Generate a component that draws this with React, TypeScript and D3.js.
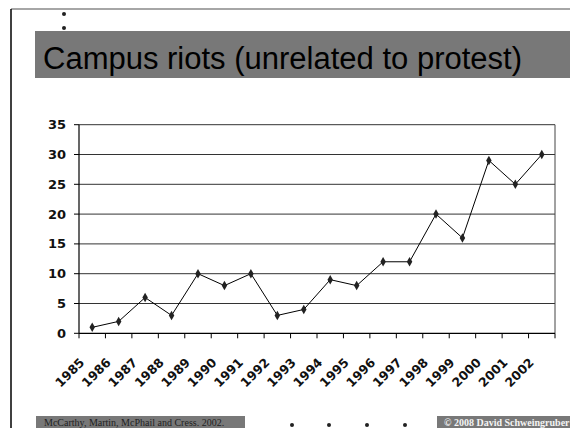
import React from 'react';
import * as d3 from 'd3';

const years = ['1985', '1986', '1987', '1988', '1989', '1990', '1991', '1992', '1993',
    '1994', '1995', '1996', '1997', '1998', '1999', '2000', '2001', '2002'];
const riots = [1, 2, 6, 3, 10, 8, 10, 3, 4, 9, 8, 12, 12, 20, 16, 29, 25, 30];
const yTicks = [0, 5, 10, 15, 20, 25, 30, 35];

const title = 'Campus riots (unrelated to protest)';
const sourceNote = 'McCarthy, Martin, McPhail and Cress. 2002.';
const copyright = '\u00A9 2008 David Schweingruber';

const W = 570, H = 428;
const PLOT = { LEFT: 79, RIGHT: 555, TOP: 124.7, BOTTOM: 333.3 };

const App = () => {
    const x = d3.scaleBand<string>().domain(years).range([PLOT.LEFT, PLOT.RIGHT]);
    const y = d3.scaleLinear().domain([0, 35]).range([PLOT.BOTTOM, PLOT.TOP]);

    const line = d3.line<number>()
        .x((_, i) => (x(years[i]) as number) + x.bandwidth() / 2)
        .y(d => y(d));

    const diamond = d3.symbol().type(d3.symbolDiamond).size(26)();

    const boundaries = years.map(yr => x(yr) as number).concat([PLOT.RIGHT]);

    return (
        <svg width={W} height={H} style={{ position: 'absolute', left: 0, top: 0, background: '#fff' }}>
            {/* slide frame */}
            <line x1={11} x2={W} y1={9} y2={9} stroke='#888' strokeWidth={1.5} />
            <line x1={11} x2={11} y1={9} y2={H} stroke='#000' strokeWidth={1.5} />
            <circle cx={64} cy={14} r={2} fill='#222' />
            <circle cx={64} cy={28} r={2} fill='#222' />

            {/* title bar */}
            <rect x={35} y={31} width={W - 35} height={47} fill='#787878' />
            <text x={43} y={69} fontFamily='Liberation Sans' fontSize={31} fill='#000'>{title}</text>

            {/* gridlines */}
            <g>
                {yTicks.filter(t => t > 0).map(t => (
                    <line key={`grid-${t}`} x1={PLOT.LEFT} x2={PLOT.RIGHT} y1={y(t)} y2={y(t)} stroke='#333' strokeWidth={1} />
                ))}
            </g>
            {/* axes */}
            <line x1={PLOT.RIGHT} x2={PLOT.RIGHT} y1={PLOT.TOP} y2={PLOT.BOTTOM} stroke='#444' strokeWidth={1} />
            <line x1={PLOT.LEFT} x2={PLOT.LEFT} y1={PLOT.TOP} y2={PLOT.BOTTOM} stroke='#000' strokeWidth={1.2} />
            <line x1={PLOT.LEFT} x2={PLOT.RIGHT} y1={PLOT.BOTTOM} y2={PLOT.BOTTOM} stroke='#000' strokeWidth={1.2} />
            <g>
                {yTicks.map(t => (
                    <g key={`yt-${t}`}>
                        <line x1={PLOT.LEFT - 5} x2={PLOT.LEFT} y1={y(t)} y2={y(t)} stroke='#000' />
                        <text x={66} y={y(t)} dy='0.35em' textAnchor='end' fontFamily='DejaVu Sans'
                            fontWeight='bold' fontSize={13} fill='#111'>{t}</text>
                    </g>
                ))}
            </g>
            <g>
                {boundaries.map((b, i) => (
                    <line key={`xt-${i}`} x1={b} x2={b} y1={PLOT.BOTTOM} y2={PLOT.BOTTOM + 5} stroke='#000' />
                ))}
                {years.map(yr => {
                    const cx = (x(yr) as number) + x.bandwidth() / 2 - 7;
                    const cy = PLOT.BOTTOM + 30;
                    return (
                        <text key={`xl-${yr}`} transform={`translate(${cx},${cy}) rotate(-45)`} textAnchor='end'
                            fontFamily='DejaVu Sans' fontWeight='bold' fontSize={12.5} fill='#111'>{yr}</text>
                    );
                })}
            </g>

            {/* series */}
            <path d={line(riots) as string} fill='none' stroke='#000' strokeWidth={1} />
            <g>
                {riots.map((v, i) => (
                    <path key={`pt-${i}`} d={diamond as string}
                        transform={`translate(${(x(years[i]) as number) + x.bandwidth() / 2},${y(v)})`} fill='#222' />
                ))}
            </g>

            {/* footer */}
            <rect x={36} y={416} width={209} height={12} fill='#787878' />
            <text x={44} y={425.5} fontFamily='Liberation Serif' fontSize={10} fill='#222'>{sourceNote}</text>
            {[292, 329, 367, 405].map(cx => (
                <circle key={`dot-${cx}`} cx={cx} cy={425} r={2} fill='#222' />
            ))}
            <rect x={437} y={416} width={W - 437} height={12} fill='#787878' />
            <text x={444} y={425.5} fontFamily='Liberation Serif' fontWeight='bold' fontSize={10} fill='#f4f4f4'>{copyright}</text>
        </svg>
    );
};

export default App;
